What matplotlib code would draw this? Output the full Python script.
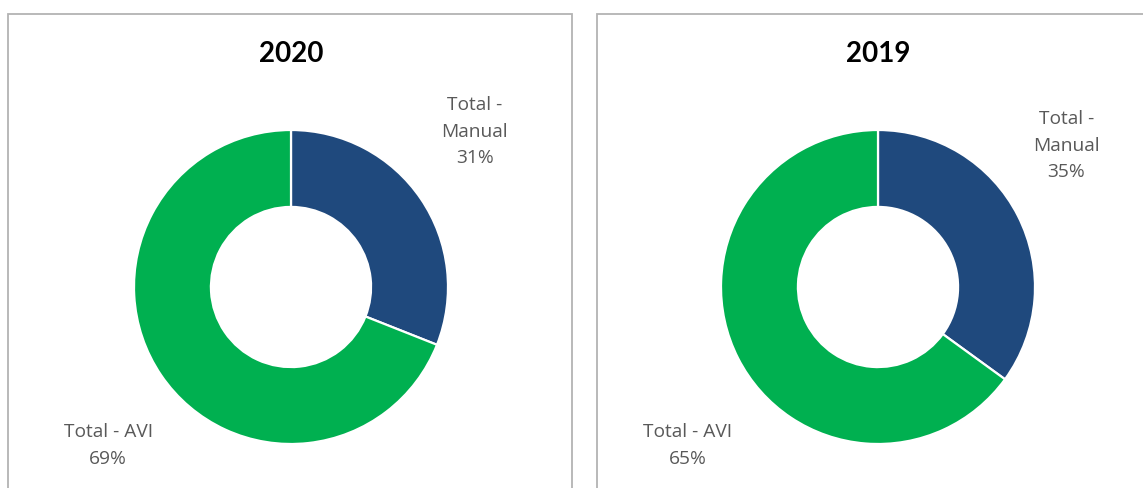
import matplotlib
matplotlib.use("Agg")
import matplotlib.pyplot as plt
from matplotlib.patches import Rectangle

# data
years = ["2020", "2019"]
categories = ["Total -\nManual", "Total - AVI"]
manual_share = [31, 35]
avi_share = [69, 65]
colors = ["#1F497D", "#00B050"]

W, H = 1143, 488
fig = plt.figure(figsize=(W / 100, H / 100), dpi=100)
fig.patch.set_facecolor("white")


def fx(px):
    return px / W


def fy(py):
    return 1 - py / H


# panel frames (they run past the bottom edge of the picture)
for x0, x1 in [(8, 572), (597, 1160)]:
    fig.patches.append(Rectangle((fx(x0), fy(500)), fx(x1 - x0), (500 - 14) / H,
                                 transform=fig.transFigure, fill=False,
                                 edgecolor="#B3B3B3", linewidth=1.3))

centers = [291, 878]
label_pos = [((1.17, 0.99), (-1.165, -1.01)),
             ((1.20, 0.90), (-1.21, -1.01))]
R = 157

for i, year in enumerate(years):
    cx, cy = centers[i], 287
    ax = fig.add_axes([fx(cx - R), fy(cy + R), fx(2 * R), 2 * R / H])
    vals = [manual_share[i], avi_share[i]]
    ax.pie(vals, colors=colors, startangle=90, counterclock=False,
           radius=1, wedgeprops=dict(width=0.49, edgecolor="white", linewidth=1.6))
    ax.set_xlim(-1, 1)
    ax.set_ylim(-1, 1)
    ax.set_aspect("equal")
    ax.axis("off")

    for j, cat in enumerate(categories):
        x, y = label_pos[i][j]
        ax.text(x, y, f"{cat}\n{vals[j]}%", ha="center", va="center",
                fontsize=13.8, color="#595959", family="Open Sans",
                linespacing=1.62, clip_on=False)

    fig.text(fx(cx), fy(54), year, ha="center", va="center",
             fontsize=20, fontweight="bold", family="Lato", color="black")

fig.savefig("out.png", dpi=100, facecolor="white")
